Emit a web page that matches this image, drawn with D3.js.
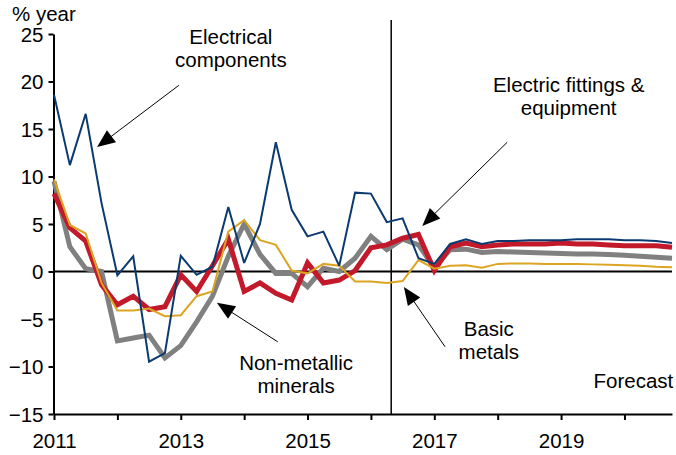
<!DOCTYPE html>
<html><head><meta charset="utf-8">
<script src="https://cdn.jsdelivr.net/npm/d3@7"></script>
<style>
html,body{margin:0;padding:0;background:#fff;}
text{font-family:"Liberation Sans",Arial,sans-serif;}
</style></head><body>
<svg id="chart" width="676" height="455"></svg>
<script>
// Quarterly periods, 2011 Q1 .. 2020 Q4
const quarters = d3.range(40).map(i => 2011 + i / 4);

const electricalComponents = [18.6, 11.2, 16.6, 7.2, -0.4, 1.6, -9.5, -8.6, 1.65, -0.35,
  0.5, 6.8, 0.9, 5.0, 13.6, 6.5, 3.7, 4.2, 0.6, 8.3,
  8.2, 5.2, 5.6, 1.4, 0.8, 2.9, 3.4, 2.9, 3.2, 3.2,
  3.3, 3.3, 3.3, 3.4, 3.4, 3.4, 3.3, 3.3, 3.2, 3.0];

const electricFittings = [8.2, 4.6, 3.2, -1.4, -3.5, -2.6, -4.0, -3.7, -0.35, -2.1,
  0.6, 3.4, -2.1, -1.2, -2.3, -3.0, 0.9, -1.2, -0.9, 0.1,
  2.5, 2.8, 3.5, 3.9, 0.1, 2.6, 3.0, 2.6, 2.8, 2.9,
  2.9, 2.9, 3.0, 2.9, 2.9, 2.8, 2.7, 2.7, 2.7, 2.55];

const nonMetallicMinerals = [9.5, 2.6, 0.3, 0.0, -7.3, -7.0, -6.7, -9.1, -7.8, -5.3,
  -2.6, 1.6, 5.0, 1.8, -0.2, -0.2, -1.6, 0.35, 0.0, 1.4,
  3.7, 2.3, 3.4, 2.8, 0.4, 2.3, 2.35, 2.0, 2.1, 2.05,
  2.0, 1.95, 1.9, 1.85, 1.85, 1.8, 1.7, 1.6, 1.5, 1.4];

const basicMetals = [9.7, 4.9, 4.0, -1.2, -4.1, -4.1, -3.9, -4.7, -4.6, -2.6,
  -2.1, 4.2, 5.4, 3.3, 2.8, 0.1, -0.2, 0.8, 0.6, -1.05,
  -1.05, -1.2, -1.0, 1.2, 0.3, 0.6, 0.65, 0.4, 0.8, 0.85,
  0.85, 0.8, 0.8, 0.8, 0.75, 0.7, 0.65, 0.6, 0.5, 0.45];

const yTicks = [25, 20, 15, 10, 5, 0, -5, -10, -15];
const xTicks = [2011, 2012, 2013, 2014, 2015, 2016, 2017, 2018, 2019, 2020];
const xTickLabels = ["2011", "", "2013", "", "2015", "", "2017", "", "2019", ""];
const forecastStart = 2016.32;
const yAxisTitle = "% year";

const series = [
  {name: "Non-metallic minerals", values: nonMetallicMinerals, color: "#808080", width: 5},
  {name: "Electric fittings & equipment", values: electricFittings, color: "#c21a2b", width: 5},
  {name: "Basic metals", values: basicMetals, color: "#dba521", width: 2},
  {name: "Electrical components", values: electricalComponents, color: "#0b3a70", width: 2}
];

// annotations in data units: text lines centre / arrow start / arrow tip
const annotations = [
  {lines: ["Electrical", "components"], tx: 2013.79, ty: 23.95, ax: 2012.97, ay: 19.6, bx: 2011.68, by: 13.1},
  {lines: ["Electric fittings &", "equipment"], tx: 2019.12, ty: 18.9, ax: 2018.15, ay: 13.6, bx: 2016.81, by: 4.8},
  {lines: ["Non-metallic", "minerals"], tx: 2014.82, ty: -10.35, ax: 2014.53, ay: -7.4, bx: 2013.57, by: -3.3},
  {lines: ["Basic", "metals"], tx: 2017.86, ty: -6.77, ax: 2017.17, ay: -7.93, bx: 2016.52, by: -1.62}
];

const svg = d3.select("#chart");
const x = d3.scaleLinear().domain([2011, 2020.75]).range([54, 672]);
const y = d3.scaleLinear().domain([-15, 25]).range([414, 34]);
const fs = 20.5;

// y axis
const gy = svg.append("g").attr("transform", "translate(53.5,0)")
  .call(d3.axisLeft(y).tickValues(yTicks).tickSize(5).tickSizeOuter(0).tickPadding(5).tickFormat(d3.format("d")));
gy.select(".domain").attr("stroke", "#000").attr("stroke-width", 2);
gy.selectAll(".tick line").attr("stroke", "#000").attr("stroke-width", 2);
gy.selectAll(".tick text").attr("font-size", fs).attr("fill", "#000")
  .attr("font-family", "'Liberation Sans', Arial, sans-serif").attr("dy", "0.36em");

// x axis
const gx = svg.append("g").attr("transform", `translate(0,${y(-15)})`)
  .call(d3.axisBottom(x).tickValues(xTicks).tickSize(6).tickSizeOuter(0).tickPadding(13)
    .tickFormat((d, i) => xTickLabels[i]));
gx.select(".domain").attr("stroke", "#000").attr("stroke-width", 2);
gx.selectAll(".tick line").attr("stroke", "#000").attr("stroke-width", 2);
gx.selectAll(".tick text").attr("font-size", fs).attr("fill", "#000")
  .attr("font-family", "'Liberation Sans', Arial, sans-serif");

// zero line
svg.append("line").attr("x1", x(2011)).attr("x2", x(2020.75))
  .attr("y1", y(0)).attr("y2", y(0)).attr("stroke", "#000").attr("stroke-width", 2);

// forecast divider
svg.append("line").attr("x1", x(forecastStart)).attr("x2", x(forecastStart))
  .attr("y1", 20).attr("y2", y(-15)).attr("stroke", "#000").attr("stroke-width", 1.5);

// series lines
const line = d3.line().x((d, i) => x(quarters[i])).y(d => y(d));
series.forEach(s => {
  svg.append("path").datum(s.values).attr("d", line)
    .attr("fill", "none").attr("stroke", s.color).attr("stroke-width", s.width)
    .attr("stroke-linejoin", "miter").attr("stroke-miterlimit", 3);
});

// axis title
svg.append("text").attr("x", 12).attr("y", 21).attr("font-size", fs).text(yAxisTitle);

// annotations
annotations.forEach(a => {
  const t = svg.append("text").attr("text-anchor", "middle").attr("font-size", fs)
    .attr("x", x(a.tx)).attr("y", y(a.ty));
  a.lines.forEach((l, i) => t.append("tspan").attr("x", x(a.tx)).attr("dy", i === 0 ? 0 : 23).text(l));
  const sx = x(a.ax), sy = y(a.ay), tx = x(a.bx), ty = y(a.by);
  const dx = tx - sx, dy = ty - sy, len = Math.hypot(dx, dy);
  const ux = dx / len, uy = dy / len, L = 18, W = 7.5;
  const bx = tx - ux * L, by = ty - uy * L;
  svg.append("line").attr("x1", sx).attr("y1", sy).attr("x2", bx + ux * 2).attr("y2", by + uy * 2)
    .attr("stroke", "#000").attr("stroke-width", 1);
  svg.append("path").attr("d", `M${tx},${ty}L${bx - uy * W},${by + ux * W}L${bx + uy * W},${by - ux * W}Z`)
    .attr("fill", "#000");
});

// forecast label
svg.append("text").attr("x", x(2020.77)).attr("y", y(-12.24)).attr("text-anchor", "end")
  .attr("font-size", fs).text("Forecast");
</script>
</body></html>
